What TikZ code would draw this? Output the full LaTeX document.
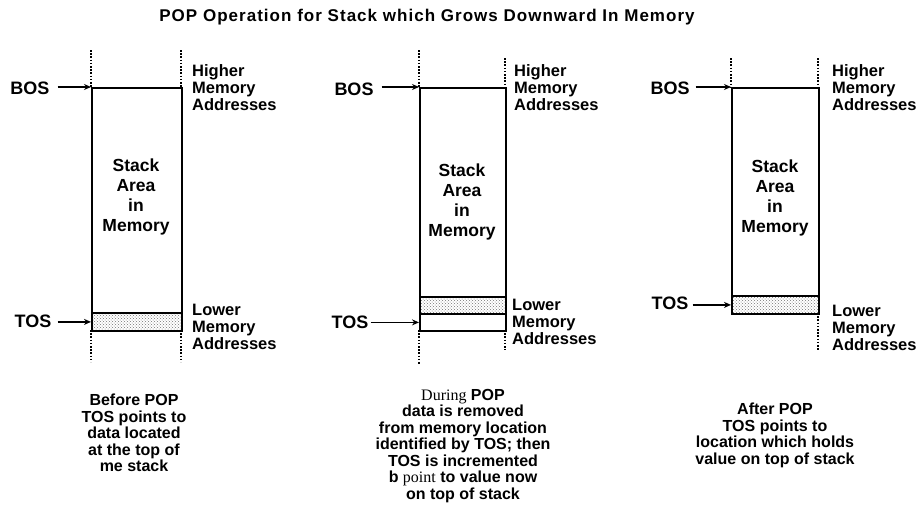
\documentclass[tikz,border=0pt]{standalone}
\usepackage{fontspec}
\setmainfont{Liberation Sans}
\newfontfamily\titlefont{Liberation Sans}[LetterSpace=6]
\newfontfamily\seriffont{Liberation Serif}
\usetikzlibrary{arrows.meta, positioning, patterns}

\begin{document}
\begin{tikzpicture}[
    x=1pt, y=-1pt,
    stackbox/.style={draw, line width=1.8pt, inner sep=0pt, anchor=north west},
    topcell/.style={stackbox, pattern=crosshatch dots, pattern color=black!55},
    guide/.style={line width=1.6pt, dash pattern=on 1.6pt off 1.6pt},
    ptr/.style={-{Stealth[length=7pt, width=6pt]}, line width=1.3pt},
    tag/.style={font=\fontsize{18}{20}\selectfont\bfseries, inner sep=0pt},
    addr/.style={font=\fontsize{16.5}{17}\selectfont\bfseries, align=left, anchor=west, inner sep=0pt},
    area/.style={font=\fontsize{17.5}{20}\selectfont\bfseries, align=center, inner sep=0pt},
    note/.style={font=\fontsize{16}{16.5}\selectfont\bfseries, align=center, anchor=north, inner sep=0pt}
]
\useasboundingbox (0,0) rectangle (918,512);

% Title
\node[font=\titlefont\fontsize{17}{19}\selectfont\bfseries] (title) at (427,17)
    {POP Operation for Stack which Grows Downward In Memory};

% Before POP
\draw[guide] (91,50) -- (91,87);
\draw[guide] (181,50) -- (181,87);
\draw[guide] (91,330) -- (91,362);
\draw[guide] (181,330) -- (181,362);
\node[stackbox, minimum width=90pt, minimum height=243pt] (stack1) at (91,87) {};
\node[topcell, minimum width=90pt, minimum height=18pt] (cell1) at (91,312) {};
\node[area] (name1) at (136,197) {Stack\\Area\\in\\Memory};
\node[tag] (bos1) at (30,88) {BOS};
\node[tag] (tos1) at (33,321) {TOS};
\draw[ptr, shorten <=8pt] (bos1.east |- stack1.north west) -- (stack1.north west);
\draw[ptr, shorten <=6pt] (tos1.east |- cell1.west) -- (cell1.west);
\node[addr] (high1) at (192,88) {Higher\\Memory\\Addresses};
\node[addr] (low1) at (192,327) {Lower\\Memory\\Addresses};
\node[note] (cap1) at (134,394) {Before POP\\TOS points to\\data located\\at the top of\\me stack};

% During POP
\draw[guide] (419,50) -- (419,87);
\draw[guide] (505,58) -- (505,87);
\draw[guide] (419,330) -- (419,365);
\draw[guide] (505,330) -- (505,350);
\node[stackbox, minimum width=86pt, minimum height=243pt] (stack2) at (419,87) {};
\node[topcell, minimum width=86pt, minimum height=17pt] (cell2) at (419,296) {};
\node[stackbox, minimum width=86pt, minimum height=17pt] (slot2) at (419,313) {};
\node[area] (name2) at (462,202) {Stack\\Area\\in\\Memory};
\node[tag] (bos2) at (354,89) {BOS};
\node[tag] (tos2) at (350,322) {TOS};
\draw[ptr, shorten <=8pt] (bos2.east |- stack2.north west) -- (stack2.north west);
\draw[ptr, shorten <=2pt] (tos2.east |- slot2.west) -- (slot2.west);
\node[addr] (high2) at (514,88) {Higher\\Memory\\Addresses};
\node[addr] (low2) at (512,322) {Lower\\Memory\\Addresses};
\node[note] (cap2) at (463,389) {{\seriffont\mdseries During} POP\\data is removed\\from memory location\\identified by TOS; then\\TOS is incremented\\b {\seriffont\mdseries point} to value now\\on top of stack};

% After POP
\draw[guide] (731,58) -- (731,87);
\draw[guide] (818,58) -- (818,87);
\draw[guide] (818,313) -- (818,350);
\node[stackbox, minimum width=87pt, minimum height=226pt] (stack3) at (731,87) {};
\node[topcell, minimum width=87pt, minimum height=18pt] (cell3) at (731,295) {};
\node[area] (name3) at (775,198) {Stack\\Area\\in\\Memory};
\node[tag] (bos3) at (670,88) {BOS};
\node[tag] (tos3) at (670,303) {TOS};
\draw[ptr, shorten <=6pt] (bos3.east |- stack3.north west) -- (stack3.north west);
\draw[ptr, shorten <=4pt] (tos3.east |- cell3.west) -- (cell3.west);
\node[addr] (high3) at (832,88) {Higher\\Memory\\Addresses};
\node[addr] (low3) at (832,328) {Lower\\Memory\\Addresses};
\node[note] (cap3) at (775,403) {After POP\\TOS points to\\location which holds\\value on top of stack};
\end{tikzpicture}
\end{document}
